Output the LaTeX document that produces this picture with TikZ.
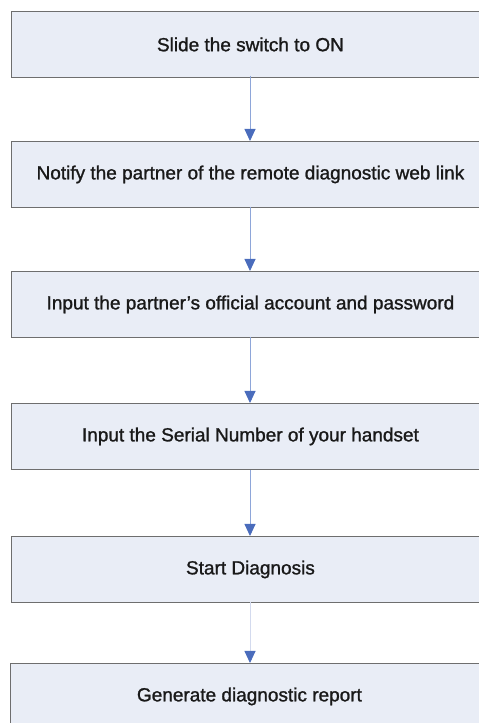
\documentclass[tikz,border=0pt]{standalone}
\usepackage{fontspec}
\setmainfont{Liberation Sans}
\newfontfamily\boxfont[FakeBold=1.2]{Liberation Sans}
\usetikzlibrary{arrows.meta}
\definecolor{boxfill}{HTML}{E9EDF6}
\definecolor{boxdraw}{HTML}{6E6E6E}
\definecolor{arrline}{HTML}{8EA6D9}
\definecolor{arrline2}{HTML}{D3DAEE}
\definecolor{arrhead}{HTML}{4A6CBC}
\tikzset{
  stepbox/.style={draw=boxdraw, line width=0.9pt, fill=boxfill, minimum width=478pt, minimum height=66pt, inner sep=0pt, font=\boxfont\fontsize{19}{22}\selectfont, text=black!90, anchor=north west},
  flowarrow/.style={draw=arrline, line width=0.9pt, -{Triangle[length=12pt,width=11pt,color=arrhead]}},
}
\begin{document}
\begin{tikzpicture}[x=1pt,y=1pt]
\useasboundingbox (0,0) rectangle (479,723);
\clip (0,0) rectangle (479,723);
\node[stepbox] (b1) at (11,723-11) {Slide the switch to ON};
\node[stepbox] (b2) at (11,723-141) {Notify the partner of the remote diagnostic web link};
\node[stepbox] (b3) at (11,723-271) {Input the partner’s official account and password};
\node[stepbox] (b4) at (11,723-403) {Input the Serial Number of your handset};
\node[stepbox] (b5) at (11,723-536) {Start Diagnosis};
\node[stepbox] (b6) at (10,723-663) {Generate diagnostic report};
\coordinate (a1s) at (250,723-76);
\coordinate (a1e) at (250,723-141);
\coordinate (a2s) at (250,723-207);
\coordinate (a2e) at (250,723-271);
\coordinate (a3s) at (250,723-337);
\coordinate (a3e) at (250,723-403);
\coordinate (a4s) at (250,723-470);
\coordinate (a4e) at (250,723-536);
\coordinate (a5s) at (250,723-602);
\coordinate (a5e) at (250,723-663);
\draw[flowarrow] (a1s) -- (a1e);
\draw[flowarrow] (a2s) -- (a2e);
\draw[flowarrow] (a3s) -- (a3e);
\draw[flowarrow] (a4s) -- (a4e);
\draw[flowarrow, draw=arrline2] (a5s) -- (a5e);
\end{tikzpicture}
\end{document}
